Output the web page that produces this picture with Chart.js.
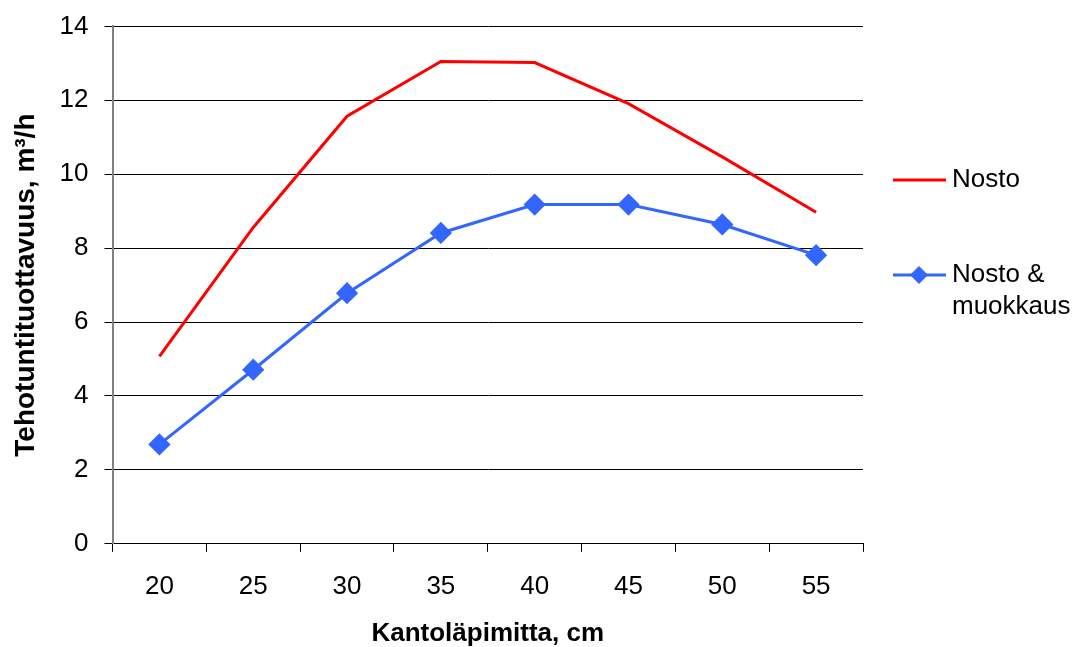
<!DOCTYPE html>
<html>
<head>
<meta charset="utf-8">
<script src="https://cdn.jsdelivr.net/npm/chart.js@4/dist/chart.umd.min.js"></script>
<style>
  html, body { margin: 0; padding: 0; background: #fff; }
  #wrap { width: 1080px; height: 647px; }
</style>
</head>
<body>
<div id="wrap"><canvas id="chart"></canvas></div>
<script>
const diameters = ["20", "25", "30", "35", "40", "45", "50", "55"]
const nosto = [5.07, 8.56, 11.57, 13.05, 13.02, 11.91, 10.47, 8.97]
const nostoMuokkaus = [2.69, 4.71, 6.78, 8.41, 9.18, 9.18, 8.64, 7.81]
const legendLabels = [["Nosto"], ["Nosto &", "muokkaus"]]

const FONT = "'Liberation Sans', Arial, sans-serif"

// legend at the right, with a wrapped second label
const sideLegend = {
  id: "sideLegend",
  afterDraw(chart) {
    const ctx = chart.ctx
    const x0 = chart.chartArea.right + 30
    const rows = [180, 275]
    ctx.save()
    chart.data.datasets.forEach((ds, i) => {
      const y = rows[i]
      ctx.strokeStyle = ds.borderColor
      ctx.lineWidth = 3
      ctx.beginPath()
      ctx.moveTo(x0, y)
      ctx.lineTo(x0 + 53, y)
      ctx.stroke()
      if (ds.pointRadius > 0) {
        ctx.fillStyle = ds.pointBackgroundColor
        const r = 9
        const cx = x0 + 26
        ctx.beginPath()
        ctx.moveTo(cx, y - r)
        ctx.lineTo(cx + r, y)
        ctx.lineTo(cx, y + r)
        ctx.lineTo(cx - r, y)
        ctx.closePath()
        ctx.fill()
      }
      ctx.fillStyle = "#000"
      ctx.font = "26px " + FONT
      ctx.textBaseline = "middle"
      ctx.textAlign = "left"
      legendLabels[i].forEach((line, j) => {
        ctx.fillText(line, x0 + 59, y + j * 32)
      })
    })
    ctx.restore()
  }
}

new Chart(document.getElementById("chart"), {
  type: "line",
  data: {
    labels: diameters,
    datasets: [
      {
        label: "Nosto",
        data: nosto,
        borderColor: "#ff0000",
        borderWidth: 3,
        pointRadius: 0,
        tension: 0
      },
      {
        label: "Nosto & muokkaus",
        data: nostoMuokkaus,
        borderColor: "#3366ff",
        pointBackgroundColor: "#3366ff",
        pointBorderColor: "#3366ff",
        borderWidth: 3,
        pointStyle: "rectRot",
        pointRadius: 9,
        tension: 0
      }
    ]
  },
  options: {
    responsive: true,
    maintainAspectRatio: false,
    animation: false,
    layout: { padding: { top: 7, right: 217, left: 9, bottom: 0 } },
    plugins: {
      legend: { display: false },
      tooltip: { enabled: false }
    },
    scales: {
      x: {
        offset: true,
        grid: {
          offset: true,
          drawOnChartArea: false,
          color: "#000",
          tickLength: 8
        },
        border: { color: "#000", width: 1 },
        ticks: {
          color: "#000",
          padding: 19,
          font: { family: FONT, size: 26 }
        },
        title: {
          display: true,
          text: "Kantoläpimitta, cm",
          color: "#000",
          padding: { top: 0, bottom: 0 },
          font: { family: FONT, size: 26, weight: "bold", lineHeight: 1 }
        }
      },
      y: {
        min: 0,
        max: 14,
        ticks: {
          stepSize: 2,
          color: "#000",
          padding: 16,
          // short line box keeps the top label from pushing the plot down
          font: { family: FONT, size: 26, lineHeight: 0.8 }
        },
        grid: {
          color: "#000",
          tickLength: 8
        },
        border: { color: "#808080", width: 2 },
        title: {
          display: true,
          text: "Tehotuntituottavuus, m³/h",
          color: "#000",
          padding: { top: 0, bottom: 1 },
          font: { family: FONT, size: 28, weight: "bold" }
        }
      }
    }
  },
  plugins: [sideLegend]
})
</script>
</body>
</html>
